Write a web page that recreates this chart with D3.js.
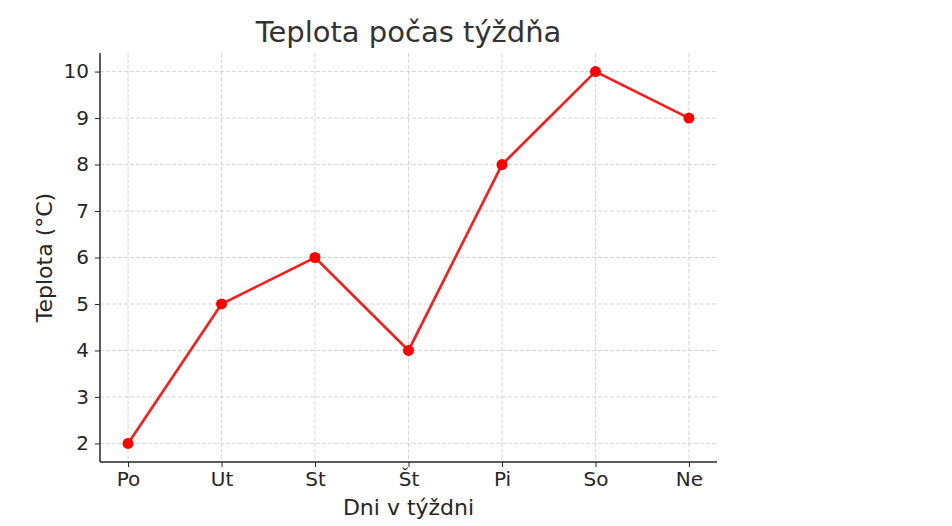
<!DOCTYPE html>
<html>
<head>
<meta charset="utf-8">
<script src="https://cdn.jsdelivr.net/npm/d3@7"></script>
<style>
  body { margin: 0; background: #fff; }
  svg { font-family: "DejaVu Sans", sans-serif; }
  .grid line { stroke: #cccccc; stroke-dasharray: 4,2; stroke-width: 0.8; }
  .axis path, .axis line { stroke: #262626; }
</style>
</head>
<body>
<script>
// data
var days = ['Po', 'Ut', 'St', 'Št', 'Pi', 'So', 'Ne'];
var temps = [2, 5, 6, 4, 8, 10, 9];
var yTicks = [2, 3, 4, 5, 6, 7, 8, 9, 10];

var w = 952,
    h = 526,
    plotLeft = 100,
    plotRight = 717,
    plotTop = 53,
    plotBottom = 462;

var svg = d3.select('body').append('svg')
    .attr('width', w)
    .attr('height', h);

// matplotlib-like 5% margins around the data
var x = d3.scaleLinear().domain([-0.3, days.length - 1 + 0.3]).range([plotLeft, plotRight]);
var y = d3.scaleLinear().domain([1.6, 10.4]).range([plotBottom, plotTop]);

// grid
var grid = svg.append('g').attr('class', 'grid');
grid.selectAll('line.v')
    .data(days)
  .enter().append('line')
    .attr('class', 'v')
    .attr('x1', function(d, i) { return x(i); })
    .attr('x2', function(d, i) { return x(i); })
    .attr('y1', plotTop)
    .attr('y2', plotBottom);
grid.selectAll('line.h')
    .data(yTicks)
  .enter().append('line')
    .attr('class', 'h')
    .attr('x1', plotLeft)
    .attr('x2', plotRight)
    .attr('y1', function(d) { return y(d); })
    .attr('y2', function(d) { return y(d); });

// axes
var xAxis = d3.axisBottom(x)
    .tickValues(d3.range(days.length))
    .tickFormat(function(i) { return days[i]; })
    .tickSize(5)
    .tickPadding(5)
    .tickSizeOuter(0);
var yAxis = d3.axisLeft(y)
    .tickValues(yTicks)
    .tickSize(5)
    .tickPadding(6)
    .tickSizeOuter(0);

var gx = svg.append('g')
    .attr('class', 'axis')
    .attr('transform', 'translate(0,' + plotBottom + ')')
    .call(xAxis);
gx.attr('font-family', '"DejaVu Sans", sans-serif').attr('font-size', 20);
gx.select('.domain').attr('d', 'M' + plotLeft + ',0H' + plotRight).style('stroke-width', 1.5);
gx.selectAll('text').style('fill', '#262626');

var gy = svg.append('g')
    .attr('class', 'axis')
    .attr('transform', 'translate(' + plotLeft + ',0)')
    .call(yAxis);
gy.attr('font-family', '"DejaVu Sans", sans-serif').attr('font-size', 20);
gy.select('.domain').attr('d', 'M0,' + plotTop + 'V' + plotBottom).style('stroke-width', 1.5);
gy.selectAll('text').style('fill', '#262626');

// line and points
var line = d3.line()
    .x(function(d, i) { return x(i); })
    .y(function(d) { return y(d); });

svg.append('path')
    .datum(temps)
    .attr('d', line)
    .attr('fill', 'none')
    .attr('stroke', '#ff1a1a')
    .attr('stroke-width', 2.6);

svg.selectAll('circle.pt')
    .data(temps)
  .enter().append('circle')
    .attr('class', 'pt')
    .attr('cx', function(d, i) { return x(i); })
    .attr('cy', function(d) { return y(d); })
    .attr('r', 5.5)
    .attr('fill', '#ff0000');

// labels
svg.append('text')
    .attr('x', (plotLeft + plotRight) / 2)
    .attr('y', 42)
    .attr('text-anchor', 'middle')
    .style('font-size', '29px')
    .style('fill', '#333333')
    .text('Teplota počas týždňa');

svg.append('text')
    .attr('x', (plotLeft + plotRight) / 2)
    .attr('y', 515)
    .attr('text-anchor', 'middle')
    .style('font-size', '22px')
    .style('fill', '#262626')
    .text('Dni v týždni');

svg.append('text')
    .attr('transform', 'translate(52,' + ((plotTop + plotBottom) / 2) + ') rotate(-90)')
    .attr('text-anchor', 'middle')
    .style('font-size', '22px')
    .style('fill', '#262626')
    .text('Teplota (°C)');
</script>
</body>
</html>
